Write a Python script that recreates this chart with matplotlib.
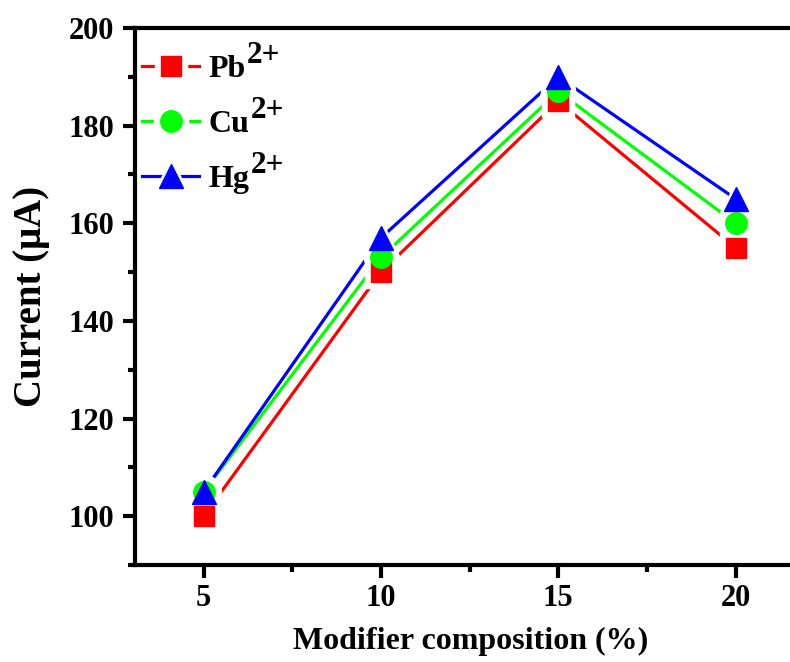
import matplotlib
matplotlib.use('Agg')
import matplotlib.pyplot as plt
from matplotlib.ticker import MultipleLocator

plt.rcParams['font.family'] = ['Liberation Serif', 'DejaVu Serif']
plt.rcParams['font.weight'] = 'bold'

composition = [5, 10, 15, 20]
pb = [100, 150, 185, 155]
cu = [105, 153, 187, 160]
hg = [105, 157, 190, 165]

# base label, superscript, colour, marker, marker size
series = [
    (pb, 'Pb', '2+', '#ff0000', 's', 14),
    (cu, 'Cu', '2+', '#00ff00', 'o', 15.5),
    (hg, 'Hg', '2+', '#0000ff', '^', 17),
]

fig = plt.figure(figsize=(7.9, 6.62), dpi=100)
ax = fig.add_axes([0.171, 0.1465, 0.85, 0.8112])

handles = []
for vals, label, sup, color, marker, ms in series:
    ln, = ax.plot(composition, vals, '-', color=color, lw=2.3, zorder=1)
    halo, = ax.plot(composition, vals, linestyle='none', marker=marker, ms=ms + 9,
                    color='white', mec='white', zorder=2)
    mk, = ax.plot(composition, vals, linestyle='none', marker=marker, ms=ms,
                  color=color, mec=color, zorder=3)
    handles.append((ln, halo, mk))

ax.set_xlim(3.07, 22)
ax.set_ylim(90, 200)
ax.xaxis.set_major_locator(MultipleLocator(5))
ax.xaxis.set_minor_locator(MultipleLocator(2.5))
ax.yaxis.set_major_locator(MultipleLocator(20))
ax.yaxis.set_minor_locator(MultipleLocator(10))

for s in ax.spines.values():
    s.set_linewidth(3)
ax.tick_params(which='major', direction='out', length=9, width=3, labelsize=22, pad=5)
ax.tick_params(axis='y', which='major', pad=6)
ax.tick_params(which='minor', direction='out', length=5, width=3)
ax.tick_params(axis='both', which='both', top=False, right=False)
for t in ax.get_xticklabels() + ax.get_yticklabels():
    t.set_fontweight('bold')

ax.set_xlabel('Modifier composition (%)', fontsize=23, fontweight='bold', labelpad=10)
ax.set_ylabel('Current (\u03bcA)', fontsize=28, fontweight='bold', labelpad=13)

leg = ax.legend(handles, [s[1] for s in series], loc='upper left', frameon=False,
                fontsize=23, handlelength=1.8, handletextpad=0.3, labelspacing=0.8,
                borderaxespad=0, borderpad=0, bbox_to_anchor=(0.01, 0.95))

# superscripts at nearly full size, like the original
fig.canvas.draw()
for t, s in zip(leg.get_texts(), series):
    bb = t.get_window_extent()
    x, y = fig.transFigure.inverted().transform((bb.x1 + 1, bb.y0 + bb.height * 0.5))
    fig.text(x, y, s[2], fontsize=22.5, fontweight='bold', ha='left', va='bottom')

fig.savefig('out.png', dpi=100)
